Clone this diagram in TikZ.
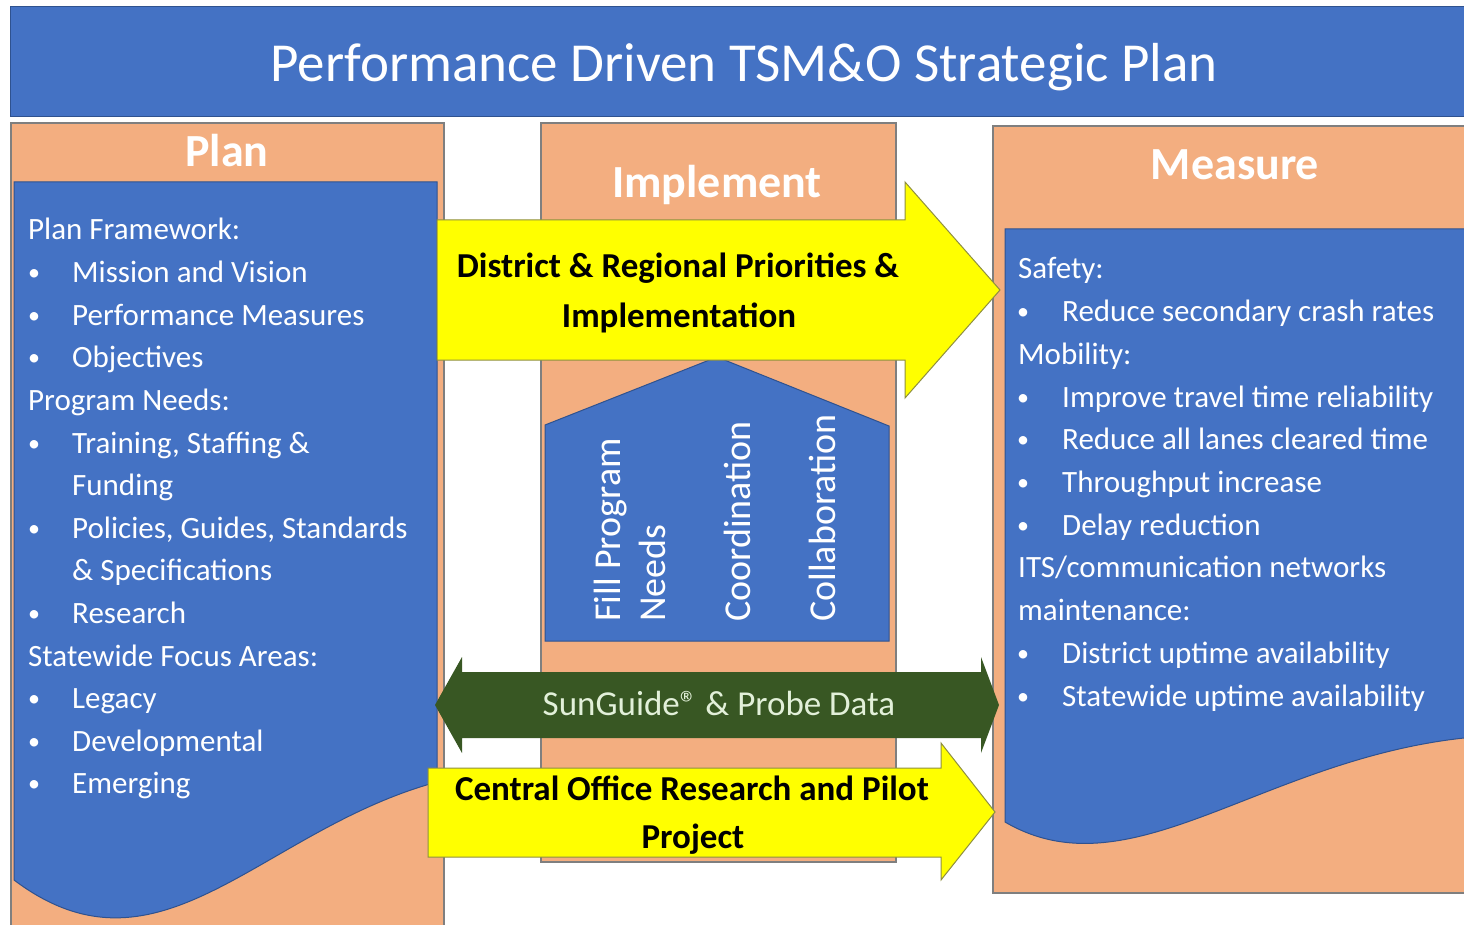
\documentclass[tikz,border=0pt]{standalone}
\usepackage{fontspec}
\setmainfont{Carlito}
\definecolor{bl}{HTML}{4472C4}
\definecolor{bld}{HTML}{2F528F}
\definecolor{org}{HTML}{F3AE80}
\definecolor{orgd}{HTML}{7F7F7F}
\definecolor{yel}{HTML}{FFFF00}
\definecolor{yeld}{HTML}{8F8F40}
\definecolor{grn}{HTML}{385723}
\definecolor{grnt}{HTML}{E2F0D9}
\begin{document}
\begin{tikzpicture}[x=1pt,y=-1pt,
  bluebox/.style={fill=bl,draw=bld,line width=1pt},
  orangebox/.style={fill=org,draw=orgd,line width=1.2pt},
  yarrow/.style={fill=yel,draw=yeld,line width=1pt},
  garrow/.style={fill=grn},
  txt/.style={font=\fontsize{31}{31}\selectfont,text=white,inner sep=0pt,anchor=base west},
  bul/.style={font=\fontsize{24}{24}\selectfont,text=white,inner sep=0pt,anchor=base},
  head/.style={font=\fontsize{46}{46}\selectfont\bfseries,text=white,inner sep=0pt,anchor=base},
  atext/.style={font=\fontsize{35}{35}\selectfont\bfseries,text=black,inner sep=0pt,anchor=base},
  vtext/.style={font=\fontsize{38}{38}\selectfont,text=white,inner sep=0pt,anchor=base west,rotate=90}]
\useasboundingbox (0,0) rectangle (1464,925);
\clip (0,0) rectangle (1464,925);
\fill[white] (0,0) rectangle (1464,925);

% banner
\filldraw[bluebox] (10,7) rectangle (1475,117);
\node[font=\fontsize{55}{55}\selectfont,text=white,inner sep=0pt,anchor=base] (title) at (744,82) {Performance Driven TSM\&O Strategic Plan};

% Plan column
\filldraw[orangebox] (11,123) rectangle (444,935);
\filldraw[bluebox] (14,182) -- (437,182) -- (437,782) .. controls (260,830) and (160,990) .. (14,880) -- cycle;
\node[head] (plan) at (227,167) {Plan};
\foreach \xx/\bb/\s [count=\i from 0] in {
  28/0/{Plan Framework:},
  72/1/{Mission and Vision},
  72/1/{Performance Measures},
  72/1/{Objectives},
  28/0/{Program Needs:},
  72/1/{Training, Staffing \&},
  72/0/{Funding},
  72/1/{Policies, Guides, Standards},
  72/0/{\& Specifications},
  72/1/{Research},
  28/0/{Statewide Focus Areas:},
  72/1/{Legacy},
  72/1/{Developmental},
  72/1/{Emerging}}{
  \node[txt] (pl\i) at (\xx,240+42.6*\i) {\s};
  \ifnum\bb=1 \node[bul] (pb\i) at (34,238+42.6*\i) {\textbullet}; \fi
}

% Implement column
\filldraw[orangebox] (541,123) rectangle (896,862);
\node[head] (impl) at (717,198) {Implement};
\filldraw[bluebox] (545,425) -- (717,357) -- (889,426) -- (889,641) -- (545,641) -- cycle;
\node[vtext] (fill) at (620,622) {Fill Program};
\node[vtext] (needs) at (665,622) {Needs};
\node[vtext] (coord) at (750,622) {Coordination};
\node[vtext] (collab) at (835,622) {Collaboration};

% Measure column
\filldraw[orangebox] (993,126) rectangle (1475,893);
\filldraw[bluebox] (1005,229) -- (1475,229) -- (1475,737) -- (1464,738) .. controls (1260,760) and (1130,895) .. (1005,822) -- cycle;
\node[head] (meas) at (1235,180) {Measure};
\foreach \xx/\bb/\s [count=\i from 0] in {
  1018/0/{Safety:},
  1062/1/{Reduce secondary crash rates},
  1018/0/{Mobility:},
  1062/1/{Improve travel time reliability},
  1062/1/{Reduce all lanes cleared time},
  1062/1/{Throughput increase},
  1062/1/{Delay reduction},
  1018/0/{ITS/communication networks},
  1018/0/{maintenance:},
  1062/1/{District uptime availability},
  1062/1/{Statewide uptime availability}}{
  \node[txt] (ml\i) at (\xx,279+42.7*\i) {\s};
  \ifnum\bb=1 \node[bul] (mb\i) at (1023,277+42.7*\i) {\textbullet}; \fi
}

% arrows
\filldraw[yarrow] (437,220) -- (905,220) -- (905,182) -- (1000,290) -- (905,398) -- (905,360) -- (437,360) -- cycle;
\node[atext] (d1) at (678,278) {District \& Regional Priorities \&};
\node[atext] (d2) at (679,327) {Implementation};

\fill[garrow] (435,705) -- (462,657) -- (462,672) -- (981,672) -- (981,657) -- (999,705) -- (981,753) -- (981,738) -- (462,738) -- (462,753) -- cycle;
\node[font=\fontsize{35}{35}\selectfont,text=grnt,inner sep=0pt,anchor=base] (sun) at (719,715) {SunGuide® \& Probe Data};

\filldraw[yarrow] (428,768) -- (941,768) -- (941,743) -- (995,812) -- (941,880) -- (941,857) -- (428,857) -- cycle;
\node[atext] (c1) at (692,800) {Central Office Research and Pilot};
\node[atext] (c2) at (693,848) {Project};
\end{tikzpicture}
\end{document}
